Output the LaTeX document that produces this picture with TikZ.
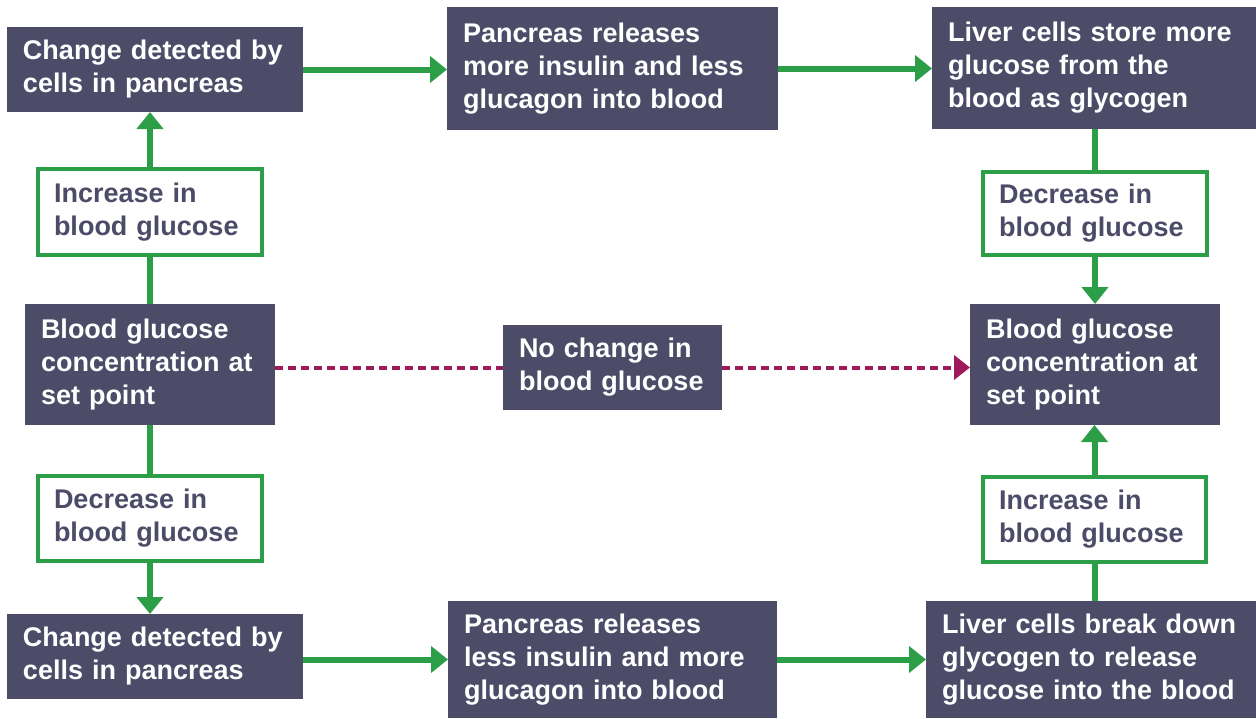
\documentclass[tikz,border=0pt]{standalone}
\usepackage{fontspec}
\setmainfont{Liberation Sans}
\usetikzlibrary{arrows.meta}
\definecolor{boxdark}{RGB}{76,75,104}
\definecolor{arrgreen}{RGB}{44,158,72}
\definecolor{dashmag}{RGB}{158,26,90}
\newcommand{\mkbox}[7]{% name, x1,y1,x2,y2, style, text
  \pgfmathsetmacro{\mkw}{#4-#2}%
  \pgfmathsetmacro{\mkh}{#5-#3}%
  \pgfmathsetmacro{\mktw}{#4-#2-32}%
  \node[#6, minimum width=\mkw pt, minimum height=\mkh pt, text width=\mktw pt] (#1) at ({(#2+#4)/2},{(#3+#5)/2}) {#7};}
\tikzset{
  txt/.style={font=\bfseries\fontsize{27}{33}\selectfont, align=left, inner sep=0pt, outer sep=0pt},
  darkbox/.style={txt, fill=boxdark, text=white},
  greenbox/.style={txt, fill=white, draw=arrgreen, line width=3.5pt, text=boxdark},
  gline/.style={draw=arrgreen, line width=6pt},
  garrow/.style={gline, -{Triangle[width=26pt,length=17pt]}},
  dline/.style={draw=dashmag, line width=4pt, dash pattern=on 8pt off 5pt},
  darrow/.style={dline, -{Triangle[width=24pt,length=16pt]}}
}
\begin{document}
\begin{tikzpicture}[x=1pt,y=-1pt]
\useasboundingbox[fill=white] (0,0) rectangle (1256,718);
% top row
\mkbox{A1}{7}{27}{303}{112}{darkbox}{Change detected by\\cells in pancreas}
\mkbox{B1}{447}{7}{778}{130}{darkbox}{Pancreas releases\\more insulin and less\\glucagon into blood}
\mkbox{C1}{932}{7}{1256}{129}{darkbox}{Liver cells store more\\glucose from the\\blood as glycogen}
% upper green boxes
\mkbox{incL}{38}{169}{262}{255}{greenbox}{Increase in\\blood glucose}
\mkbox{decR}{983}{172}{1207}{255}{greenbox}{Decrease in\\blood glucose}
% middle row
\mkbox{midL}{25}{304}{275}{425}{darkbox}{Blood glucose\\concentration at\\set point}
\mkbox{noch}{503}{325}{722}{410}{darkbox}{No change in\\blood glucose}
\mkbox{midR}{970}{304}{1220}{425}{darkbox}{Blood glucose\\concentration at\\set point}
% lower green boxes
\mkbox{decL}{38}{476}{262}{561}{greenbox}{Decrease in\\blood glucose}
\mkbox{incR}{983}{477}{1206}{562}{greenbox}{Increase in\\blood glucose}
% bottom row
\mkbox{A2}{7}{614}{303}{699}{darkbox}{Change detected by\\cells in pancreas}
\mkbox{B2}{448}{601}{777}{718}{darkbox}{Pancreas releases\\less insulin and more\\glucagon into blood}
\mkbox{C2}{926}{601}{1256}{718}{darkbox}{Liver cells break down\\glycogen to release\\glucose into the blood}
% connectors: top
\draw[garrow] (A1.east) -- (A1.east -| B1.west);
\draw[garrow] (B1.east) -- (B1.east -| C1.west);
\draw[gline] (midL.north) -- (midL.north |- incL.south);
\draw[garrow] (incL.north) -- (incL.north |- A1.south);
\draw[gline] (decR.north |- C1.south) -- (decR.north);
\draw[garrow] (decR.south) -- (decR.south |- midR.north);
% middle dashed
\draw[dline] (midL.east |- noch.west) -- (noch.west);
\draw[darrow] (noch.east) -- (noch.east -| midR.west);
% bottom
\draw[gline] (midL.south) -- (midL.south |- decL.north);
\draw[garrow] (decL.south) -- (decL.south |- A2.north);
\draw[garrow] (A2.east |- B2.west) -- (B2.west);
\draw[garrow] (B2.east) -- (B2.east -| C2.west);
\draw[gline] (incR.south |- C2.north) -- (incR.south);
\draw[garrow] (incR.north) -- (incR.north |- midR.south);
\end{tikzpicture}
\end{document}
